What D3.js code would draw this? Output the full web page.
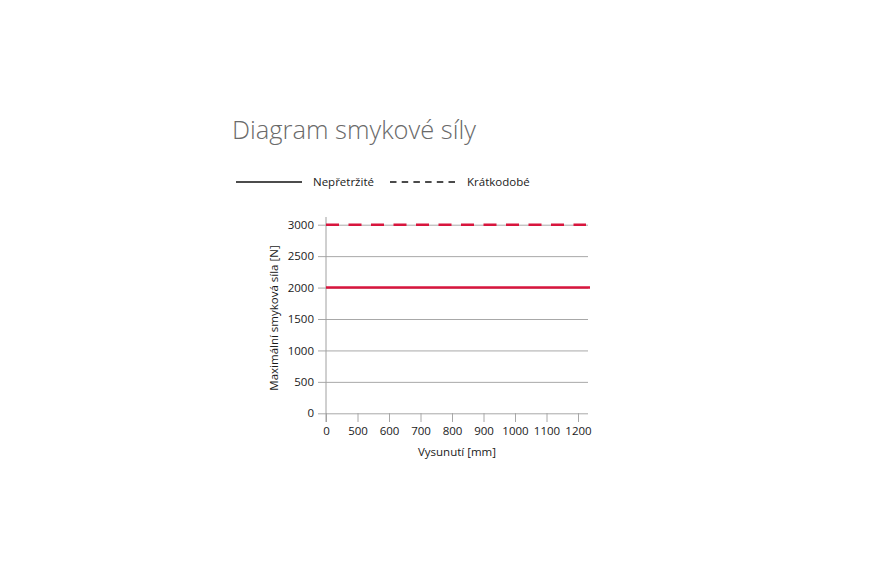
<!DOCTYPE html>
<html>
<head>
<meta charset="utf-8">
<script src="https://cdn.jsdelivr.net/npm/d3@7"></script>
<style>
  body { margin: 0; background: #fff; }
  svg text { font-family: "Open Sans", "Noto Sans", sans-serif; }
</style>
</head>
<body>
<svg id="chart" width="885" height="575"></svg>
<script>
// Data
const extensions = ['0', '500', '600', '700', '800', '900', '1000', '1100', '1200'];
const yTicks = [0, 500, 1000, 1500, 2000, 2500, 3000];
const continuousForce = [2000, 2000, 2000, 2000, 2000, 2000, 2000, 2000, 2000];
const shortTermForce = [3000, 3000, 3000, 3000, 3000, 3000, 3000, 3000, 3000];
const seriesNames = ['Nepřetržité', 'Krátkodobé'];

const svg = d3.select('#chart');
const red = '#d8153d';

// Plot area
const plotLeft = 326, plotRight = 588, plotTop = 217, plotBottom = 413;

const x = d3.scalePoint().domain(extensions).range([326, 578]);
const y = d3.scaleLinear().domain([0, 3000]).range([413.3, 224.7]);

// Title
svg.append('text')
  .attr('x', 232).attr('y', 138.5)
  .attr('font-size', 25.5).attr('font-weight', 300)
  .attr('fill', '#6a6a6a')
  .text('Diagram smykové síly');

// Legend
const legend = svg.append('g').attr('font-size', 11.5).attr('fill', '#1a1a1a');
legend.append('line').attr('x1', 236).attr('x2', 302).attr('y1', 182).attr('y2', 182)
  .attr('stroke', '#111').attr('stroke-width', 1.5);
legend.append('text').attr('x', 313).attr('y', 186).text(seriesNames[0]);
legend.append('line').attr('x1', 390).attr('x2', 456).attr('y1', 182).attr('y2', 182)
  .attr('stroke', '#111').attr('stroke-width', 1.5).attr('stroke-dasharray', '6.5,5.2');
legend.append('text').attr('x', 467).attr('y', 186).text(seriesNames[1]);

// Grid lines + y ticks
const yAxis = d3.axisLeft(y).tickValues(yTicks).tickFormat(d3.format('d'))
  .tickSize(plotRight - plotLeft + 8).tickPadding(4);
const gy = svg.append('g').attr('transform', `translate(${plotRight},0)`).call(yAxis);
gy.select('.domain').remove();
gy.selectAll('.tick line').attr('stroke', '#a8a8a8').attr('stroke-width', 1);
gy.selectAll('.tick text').attr('font-size', 11.5).attr('fill', '#1a1a1a')
  .attr('font-family', '"Open Sans", sans-serif');

// x axis ticks
const xAxis = d3.axisBottom(x).tickSize(9).tickSizeOuter(0).tickPadding(5);
const gx = svg.append('g').attr('transform', `translate(0,${plotBottom})`).call(xAxis);
gx.select('.domain').remove();
gx.selectAll('.tick line').attr('stroke', '#a8a8a8');
gx.selectAll('.tick text').attr('font-size', 11.5).attr('fill', '#1a1a1a')
  .attr('font-family', '"Open Sans", sans-serif');

// y axis line
svg.append('line').attr('x1', plotLeft).attr('x2', plotLeft).attr('y1', plotTop).attr('y2', plotBottom + 9)
  .attr('stroke', '#a0a0a0').attr('stroke-width', 1);

// Series lines (the red lines run slightly past the last tick)
const solidLine = d3.line()
  .x((d, i) => i === extensions.length - 1 ? 590 : x(extensions[i]))
  .y(d => y(d));
svg.append('path').datum(continuousForce)
  .attr('d', solidLine).attr('fill', 'none')
  .attr('stroke', red).attr('stroke-width', 2.6);

const dashedLine = d3.line()
  .x((d, i) => i === extensions.length - 1 ? 586 : x(extensions[i]))
  .y(d => y(d));
svg.append('path').datum(shortTermForce)
  .attr('d', dashedLine).attr('fill', 'none')
  .attr('stroke', red).attr('stroke-width', 2.6)
  .attr('stroke-dasharray', '13,9.5');

// Axis titles
svg.append('text')
  .attr('x', 457).attr('y', 456)
  .attr('text-anchor', 'middle').attr('font-size', 11.5).attr('fill', '#1a1a1a')
  .text('Vysunutí [mm]');

svg.append('text')
  .attr('transform', 'translate(278,318) rotate(-90)')
  .attr('text-anchor', 'middle').attr('font-size', 11.5).attr('fill', '#1a1a1a')
  .text('Maximální smyková síla [N]');
</script>
</body>
</html>
